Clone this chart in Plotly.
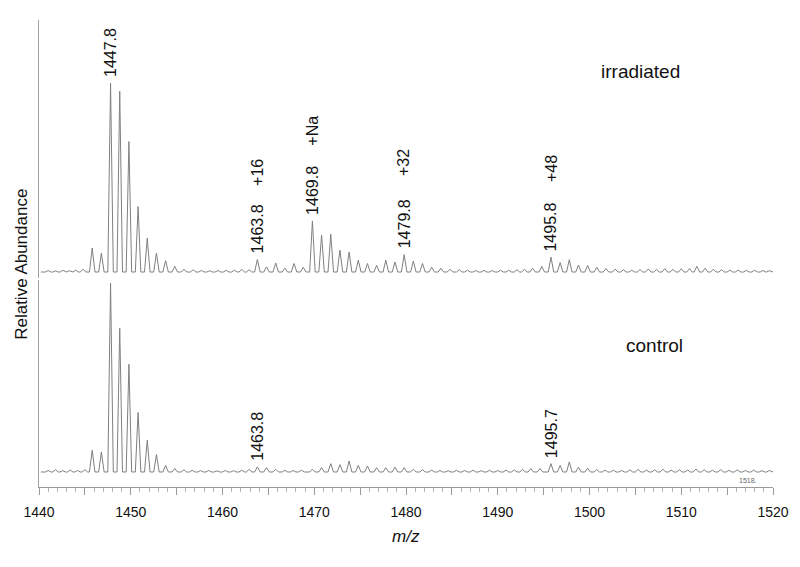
import plotly.graph_objects as go

# peak lists: m/z and relative abundance (%)
irr_mz = [1441.0, 1441.8, 1442.6, 1443.3, 1444.0, 1444.8, 1445.8, 1446.8, 1447.8, 1448.8,
          1449.8, 1450.8, 1451.8, 1452.8, 1453.8, 1454.8, 1455.8, 1456.8, 1457.7, 1458.6,
          1459.5, 1460.4, 1461.3, 1462.1, 1462.9, 1463.8, 1464.8, 1465.8, 1466.8, 1467.8,
          1468.8, 1469.8, 1470.8, 1471.8, 1472.8, 1473.8, 1474.8, 1475.8, 1476.8, 1477.8,
          1478.8, 1479.8, 1480.8, 1481.8, 1482.8, 1483.8, 1484.8, 1485.8, 1486.7, 1487.6,
          1488.5, 1489.4, 1490.3, 1491.2, 1492.1, 1492.9, 1493.8, 1494.8, 1495.8, 1496.8,
          1497.8, 1498.8, 1499.8, 1500.8, 1501.8, 1502.8, 1503.7, 1504.6, 1505.5, 1506.4,
          1507.3, 1508.2, 1509.1, 1510.0, 1510.9, 1511.7, 1512.6, 1513.5, 1514.4, 1515.3,
          1516.2, 1517.1, 1518.0, 1518.9, 1519.6]
irr_int = [0.8, 0.6, 0.9, 0.7, 1.0, 1.5, 12.7, 10.0, 100.0, 95.6,
           69.0, 34.6, 18.0, 10.0, 6.0, 3.0, 1.5, 1.2, 0.8, 0.7,
           0.8, 0.9, 1.0, 1.4, 1.2, 6.6, 2.7, 4.8, 2.0, 4.5,
           2.5, 27.0, 19.5, 20.0, 11.6, 10.6, 6.3, 4.5, 3.5, 6.3,
           5.3, 9.2, 5.8, 4.5, 2.5, 2.0, 1.5, 1.2, 1.0, 0.8,
           0.9, 0.8, 1.0, 0.9, 1.2, 1.4, 2.0, 3.0, 7.9, 5.0,
           6.5, 3.7, 3.5, 2.5, 1.8, 1.6, 1.2, 1.0, 1.3, 1.6,
           1.4, 1.8, 1.5, 1.7, 1.8, 3.0, 2.0, 1.5, 1.2, 1.0,
           1.0, 0.9, 1.0, 0.8, 0.7]

ctl_mz = [1441.0, 1441.8, 1442.6, 1443.4, 1444.2, 1445.0, 1445.8, 1446.8, 1447.8, 1448.8,
          1449.8, 1450.8, 1451.8, 1452.8, 1453.8, 1454.8, 1455.8, 1456.7, 1457.6, 1458.5,
          1459.4, 1460.3, 1461.2, 1462.1, 1462.9, 1463.8, 1464.8, 1465.8, 1466.8, 1467.7,
          1468.6, 1469.8, 1470.8, 1471.8, 1472.8, 1473.8, 1474.8, 1475.8, 1476.8, 1477.8,
          1478.8, 1479.8, 1480.8, 1481.8, 1482.8, 1483.7, 1484.6, 1485.5, 1486.4, 1487.3,
          1488.2, 1489.1, 1490.0, 1490.9, 1491.8, 1492.7, 1493.6, 1494.6, 1495.8, 1496.8,
          1497.8, 1498.8, 1499.8, 1500.8, 1501.7, 1502.6, 1503.5, 1504.4, 1505.3, 1506.2,
          1507.1, 1508.0, 1508.9, 1509.8, 1510.7, 1511.6, 1512.5, 1513.4, 1514.3, 1515.2,
          1516.1, 1517.0, 1517.9, 1518.8, 1519.6]
ctl_int = [0.8, 1.2, 0.7, 1.0, 0.8, 1.2, 11.5, 10.6, 100.0, 76.0,
           57.0, 31.5, 16.8, 9.2, 3.5, 1.8, 1.2, 0.9, 0.7, 0.8,
           0.6, 0.8, 0.7, 0.9, 1.4, 2.7, 2.3, 1.5, 0.9, 0.8,
           1.0, 1.5, 2.3, 4.4, 3.9, 5.8, 3.5, 3.2, 2.3, 2.3,
           2.6, 2.3, 1.5, 1.2, 1.0, 0.8, 0.7, 0.9, 0.8, 1.0,
           0.7, 0.9, 0.8, 1.0, 1.1, 1.4, 1.8, 1.8, 4.4, 3.5,
           5.3, 2.6, 2.0, 1.3, 1.0, 1.0, 0.8, 1.1, 1.4, 1.0,
           1.2, 1.5, 1.0, 1.2, 1.1, 1.6, 1.2, 1.0, 1.3, 0.9,
           1.1, 0.8, 1.0, 0.7, 0.8]

# labelled peaks
irr_labels = ["1447.8", "1463.8", "1469.8", "1479.8", "1495.8"]
irr_shift = ["", "+16", "+Na", "+32", "+48"]
ctl_labels = ["1463.8", "1495.7"]

FONT = "Liberation Sans, Arial, sans-serif"
HW = 0.3  # half width of a drawn peak


def profile(mz, inten):
    xs, ys = [1440.2], [0]
    for m, h in zip(mz, inten):
        xs += [m - HW, m, m + HW]
        ys += [0, h, 0]
    xs.append(1520)
    ys.append(0)
    return xs, ys


fig = go.Figure()
x1, y1 = profile(irr_mz, irr_int)
x2, y2 = profile(ctl_mz, ctl_int)
fig.add_trace(go.Scatter(x=x1, y=y1, mode='lines', line=dict(color='#808080', width=1),
                         yaxis='y', showlegend=False, hoverinfo='skip'))
fig.add_trace(go.Scatter(x=x2, y=y2, mode='lines', line=dict(color='#808080', width=1),
                         yaxis='y2', showlegend=False, hoverinfo='skip'))

ann = []


def peak_of(mz, inten, lab):
    v = float(lab)
    i = min(range(len(mz)), key=lambda k: abs(mz[k] - v))
    return mz[i], inten[i]


# shift labels, y in top axis units
shift_y = {"+16": 52.6, "+Na": 75.0, "+32": 57.7, "+48": 55.0}
for lab, sh in zip(irr_labels, irr_shift):
    m, h = peak_of(irr_mz, irr_int, lab)
    ann.append(dict(x=m, y=h, xref='x', yref='y', text=lab, textangle=-90, showarrow=False,
                    yanchor='bottom', yshift=4, font=dict(size=16, color='#111', family=FONT)))
    if sh:
        ann.append(dict(x=m, y=shift_y[sh], xref='x', yref='y', text=sh, textangle=-90,
                        showarrow=False, font=dict(size=16, color='#111', family=FONT)))
for lab in ctl_labels:
    m, h = peak_of(ctl_mz, ctl_int, lab)
    ann.append(dict(x=m, y=h, xref='x', yref='y2', text=lab, textangle=-90, showarrow=False,
                    yanchor='bottom', yshift=4, font=dict(size=16, color='#111', family=FONT)))

ann.append(dict(x=1510.1, y=106, xref='x', yref='y', text="irradiated", showarrow=False,
                xanchor='right', yanchor='middle', font=dict(size=19, color='#111', family=FONT)))
ann.append(dict(x=1510.4, y=67, xref='x', yref='y2', text="control", showarrow=False,
                xanchor='right', yanchor='middle', font=dict(size=19, color='#111', family=FONT)))
ann.append(dict(x=-0.023, y=0.476, xref='paper', yref='paper', text="Relative Abundance",
                textangle=-90, showarrow=False, xanchor='center', yanchor='middle',
                font=dict(size=17, color='#111', family=FONT)))
ann.append(dict(x=0.5, y=-0.105, xref='paper', yref='paper', text="<i>m/z</i>",
                showarrow=False, xanchor='center', yanchor='middle',
                font=dict(size=17, color='#111', family=FONT)))
ann.append(dict(x=1517.3, y=-4.5, xref='x', yref='y2', text="1518.", showarrow=False,
                font=dict(size=7, color='#666', family=FONT)))

tickvals = list(range(1440, 1521, 5))
ticktext = [str(v) if v % 10 == 0 else '' for v in tickvals]

# the page body has an 8px margin, margins below compensate for it
fig.update_layout(
    width=800, height=567,
    margin=dict(l=31, r=35, t=12, b=88),
    paper_bgcolor='white', plot_bgcolor='white',
    annotations=ann,
    xaxis=dict(range=[1440, 1520], anchor='y2', automargin=False, showgrid=False,
               zeroline=False, showline=True,
               linecolor='#9a9a9a', linewidth=1, ticks='outside', ticklen=7,
               tickcolor='#9a9a9a', tickvals=tickvals, ticktext=ticktext,
               ticklabelstandoff=5,
               minor=dict(dtick=1, tick0=1440, ticks='outside', ticklen=4, tickcolor='#b0b0b0'),
               tickfont=dict(size=14, color='#111', family=FONT)),
    yaxis=dict(domain=[0.4475, 1.0], range=[-3.17, 133.3], showgrid=False, zeroline=False,
               showticklabels=False, showline=True, linecolor='#a0a0a0', automargin=False),
    yaxis2=dict(domain=[0.0, 0.4433], range=[-7.94, 101.6], showgrid=False, zeroline=False,
                showticklabels=False, showline=True, linecolor='#a0a0a0', automargin=False),
)

fig.write_html("out.html")
